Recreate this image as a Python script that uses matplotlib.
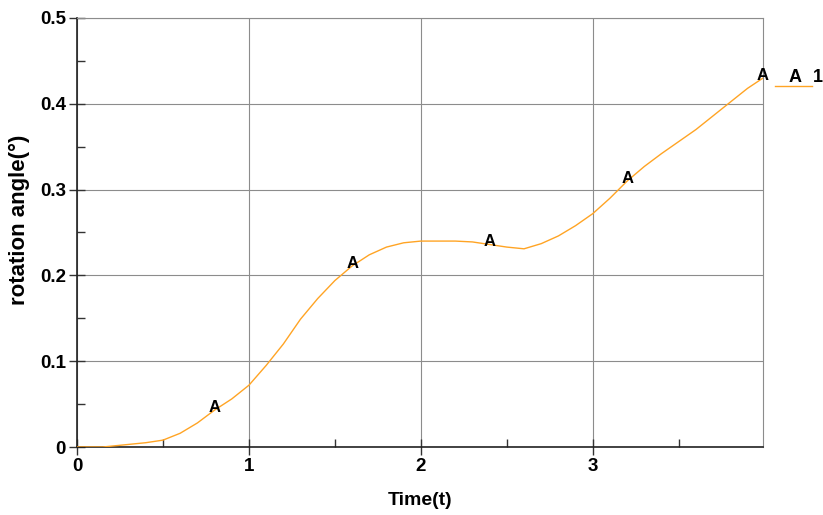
import numpy as np
import matplotlib.pyplot as plt
from matplotlib.lines import Line2D
from matplotlib.ticker import MultipleLocator

plt.rcParams['font.family'] = ['Liberation Sans', 'DejaVu Sans']

# curve
time = [0.0, 0.15, 0.3, 0.4, 0.5, 0.6, 0.7, 0.8, 0.9, 1.0, 1.1, 1.2, 1.3, 1.4, 1.5,
        1.6, 1.7, 1.8, 1.9, 2.0, 2.1, 2.2, 2.3, 2.4, 2.5, 2.6, 2.7, 2.8, 2.9, 3.0,
        3.1, 3.2, 3.3, 3.4, 3.5, 3.6, 3.7, 3.8, 3.9, 3.99]
angle = [0.0, 0.0, 0.003, 0.005, 0.008, 0.016, 0.028, 0.043, 0.056, 0.072, 0.095,
         0.12, 0.149, 0.173, 0.194, 0.211, 0.224, 0.233, 0.238, 0.24, 0.24, 0.24,
         0.239, 0.236, 0.233, 0.231, 0.237, 0.246, 0.258, 0.272, 0.29, 0.31,
         0.327, 0.342, 0.356, 0.37, 0.386, 0.402, 0.418, 0.43]
marker_t = [0.8, 1.6, 2.4, 3.2, 3.99]
series_label = "1"
xlabel = "Time(t)"
ylabel = "rotation angle(°)"

line_color = '#FFA424'

fig = plt.figure(figsize=(8.23, 5.15), dpi=100)
ax = fig.add_axes([77 / 823, 1 - 447 / 515, (763 - 77) / 823, (447 - 18) / 515])

ax.plot(time, angle, color=line_color, lw=1.0, zorder=3)
for t in marker_t:
    y = np.interp(t, time, angle)
    ax.text(t, y + 0.003, "A", ha='center', va='center', fontsize=12,
            fontweight='bold', zorder=4, clip_on=False)

ax.set_xlim(0, 3.99)
ax.set_ylim(0, 0.5)
ax.xaxis.set_minor_locator(MultipleLocator(0.5))
ax.yaxis.set_minor_locator(MultipleLocator(0.05))
ax.set_yticks([0, 0.1, 0.2, 0.3, 0.4, 0.5])
ax.set_yticklabels(['0', '0.1', '0.2', '0.3', '0.4', '0.5'])
ax.set_xticks([0, 1, 2, 3])
ax.set_xticklabels(['0', '1', '2', '3'])

ax.grid(True, which='major', color='#8c8c8c', lw=0.8)
ax.tick_params(axis='both', which='major', direction='inout', length=12,
               width=1, labelsize=13.5, color='#333333', pad=2)
ax.tick_params(axis='both', which='minor', direction='in', length=6,
               width=1, color='#333333')
for lab in ax.get_xticklabels() + ax.get_yticklabels():
    lab.set_fontweight('bold')

for side in ['left', 'bottom']:
    ax.spines[side].set_color('#222222')
    ax.spines[side].set_linewidth(1.2)
for side in ['top', 'right']:
    ax.spines[side].set_color('#8c8c8c')
    ax.spines[side].set_linewidth(0.8)

ax.set_xlabel(xlabel, fontsize=14, fontweight='bold', labelpad=12)
ax.set_ylabel(ylabel, fontsize=16, fontweight='bold')
ax.yaxis.set_label_coords(-0.068, 0.53)

# legend to the right of the axes
fig.add_artist(Line2D([775 / 823, 812 / 823], [1 - 86 / 515, 1 - 86 / 515],
                      color=line_color, lw=1.0, transform=fig.transFigure))
fig.text(795 / 823, 1 - 78 / 515, "A", ha='center', va='center',
         fontsize=13, fontweight='bold')
fig.text(813 / 823, 1 - 78 / 515, series_label, ha='left', va='center',
         fontsize=13, fontweight='bold')

fig.savefig('out.png', dpi=100)
